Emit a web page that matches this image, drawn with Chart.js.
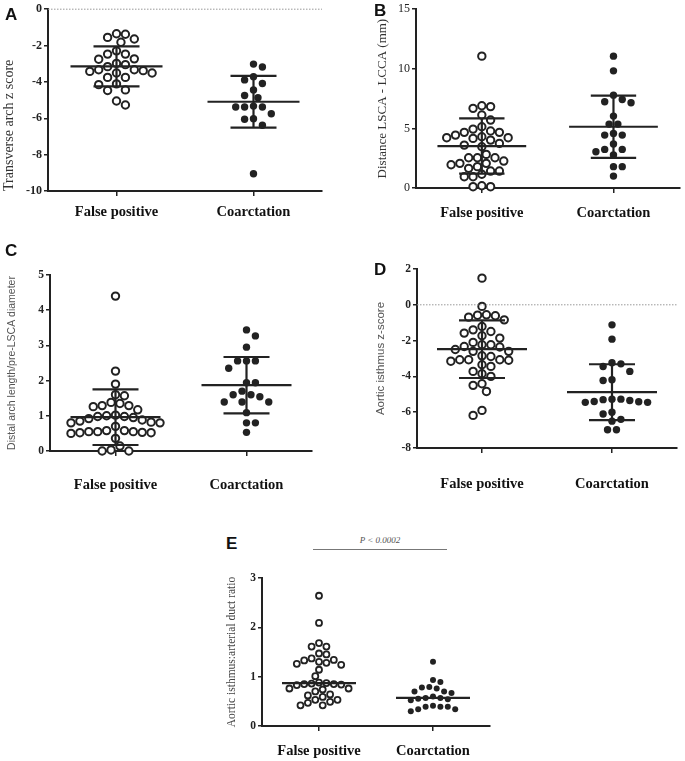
<!DOCTYPE html>
<html>
<head>
<meta charset="utf-8">
<script src="https://cdn.jsdelivr.net/npm/chart.js@4.4.1/dist/chart.umd.min.js"></script>
<style>
body{margin:0;width:685px;height:761px;background:#fff;position:relative;overflow:hidden;font-family:"Liberation Serif",serif;}
canvas{position:absolute;}
.lbl{position:absolute;font-family:"Liberation Sans",Arial,sans-serif;font-weight:bold;font-size:17px;color:#111;line-height:1;}
</style>
</head>
<body>
<canvas id="cA" width="330" height="225" style="left:0;top:0"></canvas>
<canvas id="cB" width="345" height="225" style="left:340px;top:0"></canvas>
<canvas id="cC" width="330" height="260" style="left:0;top:240px"></canvas>
<canvas id="cD" width="345" height="260" style="left:340px;top:240px"></canvas>
<canvas id="cE" width="340" height="201" style="left:170px;top:560px"></canvas>
<div class="lbl" style="left:5px;top:6px">A</div>
<div class="lbl" style="left:374px;top:2px">B</div>
<div class="lbl" style="left:5px;top:242px">C</div>
<div class="lbl" style="left:374px;top:261px">D</div>
<div class="lbl" style="left:226px;top:535px">E</div>
<div style="position:absolute;left:313px;top:549px;width:134px;border-top:1px solid #777;"></div>
<div style="position:absolute;left:313px;top:535px;width:134px;text-align:center;font-family:'Liberation Serif',serif;font-style:italic;font-size:9px;color:#555;">P &lt; 0.0002</div>
<script>
// ---------- DATA ----------
const categories = ['False positive', 'Coarctation'];

// Panel A: transverse arch z score
const aFalsePos = [-1.35,-1.38,-1.55,-1.64,-1.82,-2.29,-2.47,-2.47,-2.73,-2.75,-2.98,-3.05,-3.16,-3.33,-3.33,-3.38,-3.42,-3.51,-3.51,-3.75,-3.75,-4.11,-4.15,-4.44,-4.47,-5.05,-5.27];
const aCoarct = [-3.02,-3.18,-3.71,-3.89,-4.09,-4.44,-4.75,-4.87,-5.33,-5.38,-5.38,-5.38,-5.75,-6.02,-6.05,-6.38,-9.05];
const aMean = [-3.15, -5.09];
const aSD = [1.10, 1.42];
const aTicks = [0, -2, -4, -6, -8, -10];

// Panel B: distance LSCA - LCCA (mm)
const bFalsePos = [11.06,6.90,6.83,6.68,6.12,5.70,5.14,4.94,4.78,4.67,4.67,4.44,4.30,4.22,4.22,4.16,4.02,3.74,3.60,3.46,2.82,2.54,2.54,2.54,2.26,2.07,2.07,1.95,1.79,1.65,1.42,1.42,1.15,0.95,0.95,0.19,0.11,0.11];
const bCoarct = [11.06,9.83,7.79,7.43,7.23,7.15,6.03,5.36,5.36,4.58,4.44,4.44,3.69,3.24,3.24,3.04,2.77,1.79,1.79,1.00];
const bMean = [3.52, 5.14];
const bSD = [2.32, 2.61];
const bTicks = [0, 5, 10, 15];

// Panel C: distal arch length / pre-LSCA diameter
const cFalsePos = [4.40,2.27,1.90,1.60,1.57,1.38,1.35,1.29,1.29,1.26,1.17,1.02,1.00,0.98,0.98,0.95,0.92,0.88,0.85,0.82,0.80,0.80,0.70,0.58,0.58,0.55,0.55,0.55,0.53,0.52,0.52,0.50,0.36,0.14,0.03,0.00,0.00];
const cCoarct = [3.44,3.27,2.95,2.56,2.56,2.56,2.35,1.94,1.94,1.70,1.60,1.60,1.54,1.39,1.39,1.39,1.09,0.80,0.80,0.53];
const cMean = [0.96, 1.87];
const cSD = [0.79, 0.80];
const cTicks = [0, 1, 2, 3, 4, 5];

// Panel D: aortic isthmus z-score
const dFalsePos = [1.49,-0.09,-0.56,-0.58,-0.61,-0.69,-0.84,-1.21,-1.40,-1.49,-1.58,-1.73,-1.86,-2.10,-2.23,-2.23,-2.33,-2.36,-2.50,-2.60,-2.60,-2.85,-2.89,-3.07,-3.07,-3.07,-3.10,-3.15,-3.35,-3.44,-3.72,-3.85,-4.00,-4.41,-4.50,-4.84,-5.90,-6.18];
const dCoarct = [-1.12,-1.92,-3.24,-3.30,-3.45,-3.72,-4.19,-4.23,-5.27,-5.27,-5.30,-5.35,-5.40,-5.42,-5.45,-5.45,-6.00,-6.10,-6.40,-6.50,-6.98,-6.98];
const dMean = [-2.48, -4.88];
const dSD = [1.61, 1.56];
const dTicks = [2, 0, -2, -4, -6, -8];

// Panel E: aortic isthmus : arterial duct ratio
const eFalsePos = [2.64,2.09,1.68,1.61,1.61,1.47,1.45,1.37,1.34,1.33,1.30,1.28,1.26,1.24,1.14,1.01,0.88,0.87,0.86,0.85,0.85,0.84,0.83,0.76,0.76,0.74,0.70,0.64,0.62,0.59,0.53,0.53,0.49,0.47,0.42,0.42];
const eCoarct = [1.30,0.93,0.89,0.79,0.78,0.76,0.70,0.70,0.67,0.60,0.57,0.57,0.55,0.54,0.52,0.41,0.39,0.39,0.39,0.34,0.34,0.30];
const eMedian = [0.87, 0.57];
const eTicks = [0, 1, 2, 3];

// ---------- HELPERS ----------
const INK = '#222';
const catPos = [1, 3];

function swarm(vals, center, pxX, pxY, d) {
  const placed = [];
  const out = [];
  const sorted = vals.slice().sort((a, b) => b - a);
  let flip = 1;
  for (const v of sorted) {
    const yp = v * pxY;
    let off = 0;
    for (let i = 0; i < 80; i++) {
      const kk = i === 0 ? 0 : (i % 2 ? flip * Math.ceil(i / 2) : -flip * Math.ceil(i / 2));
      const o = kk * d / 2;
      if (placed.every(p => (p.x - o) ** 2 + (p.y - yp) ** 2 >= d * d * 0.97)) { off = o; break; }
    }
    if (off !== 0) flip = -flip;
    placed.push({x: off, y: yp});
    out.push({x: center + off / pxX, y: v});
  }
  return out;
}

function seg(x1, y1, x2, y2, w, color, dash) {
  return {type: 'line', data: [{x: x1, y: y1}, {x: x2, y: y2}], borderColor: color || INK,
    borderWidth: w, pointRadius: 0, borderDash: dash || [], showLine: true, order: 0, clip: false, fill: false};
}

function panel(id, cfg) {
  const cv = document.getElementById(id);
  const W = cv.width, H = cv.height;
  const plotW = W - cfg.yW - cfg.right;
  const plotH = H - cfg.top - cfg.xH;
  const pxX = plotW / 4;
  const pxY = plotH / (cfg.max - cfg.min);
  const ds = [];
  const series = [cfg.fp, cfg.co];
  series.forEach((vals, i) => {
    const filled = i === 1;
    ds.push({type: 'scatter', data: swarm(vals, catPos[i], pxX, pxY, cfg.d), order: 1, clip: false,
      pointRadius: cfg.r, pointHoverRadius: cfg.r, pointBorderWidth: filled ? 0 : cfg.bw,
      pointBackgroundColor: filled ? INK : '#fff', pointBorderColor: INK});
  });
  const hm = cfg.halfMean / pxX, hc = 23 / pxX;
  for (let i = 0; i < 2; i++) {
    const c = catPos[i], m = cfg.mean[i];
    ds.push(seg(c - hm, m, c + hm, m, 2.2));
    if (cfg.sd) {
      const s = cfg.sd[i];
      ds.push(seg(c, m - s, c, m + s, 2.2));
      ds.push(seg(c - hc, m + s, c + hc, m + s, 2.2));
      ds.push(seg(c - hc, m - s, c + hc, m - s, 2.2));
    }
  }
  if (cfg.zero) ds.push(seg(0, 0, 4, 0, 1, '#999', [1.5, 1.5]));
  new Chart(cv, {
    data: {datasets: ds},
    options: {
      responsive: false, animation: false, devicePixelRatio: 1,
      layout: {padding: {top: cfg.top, right: cfg.right, left: 0, bottom: 0}},
      plugins: {legend: {display: false}, tooltip: {enabled: false}},
      scales: {
        x: {type: 'linear', min: 0, max: 4,
          afterBuildTicks: s => { s.ticks = catPos.map(v => ({value: v})); },
          afterFit: s => { s.height = cfg.xH; },
          ticks: {callback: v => categories[catPos.indexOf(v)], font: {family: 'Liberation Serif', weight: 'bold', size: 14.5},
            color: '#111', padding: cfg.xPad, maxRotation: 0, autoSkip: false},
          grid: {drawOnChartArea: false, drawTicks: true, tickLength: 5, color: INK, lineWidth: 1.5},
          border: {display: true, color: INK, width: 2}},
        y: {type: 'linear', min: cfg.min, max: cfg.max,
          afterBuildTicks: s => { s.ticks = cfg.ticks.map(v => ({value: v})); },
          afterFit: s => { s.width = cfg.yW; },
          ticks: {font: {family: 'Liberation Serif', weight: cfg.tickBold ? 'bold' : 'normal', size: cfg.tickSize},
            color: '#222', padding: 2},
          grid: {drawOnChartArea: false, drawTicks: true, tickLength: 4, color: INK, lineWidth: 1.5},
          border: {display: true, color: INK, width: 2},
          title: {display: true, text: cfg.title, color: cfg.titleColor, align: cfg.titleAlign || 'center',
            font: {family: cfg.titleFont, size: cfg.titleSize}, padding: {top: cfg.titlePad, bottom: 0}}}
      }
    }
  });
}

// ---------- PANELS ----------
panel('cA', {fp: aFalsePos, co: aCoarct, mean: aMean, sd: aSD, ticks: aTicks, min: -10, max: 0, zero: true,
  yW: 48, right: 8, top: 7, xH: 34, xPad: 8, d: 8.9, r: 3.7, bw: 2, halfMean: 46,
  title: 'Transverse arch z score', titleFont: 'Liberation Serif', titleSize: 14, titleColor: '#333', titlePad: 1, titleAlign: 'start',
  tickBold: true, tickSize: 12});
panel('cB', {fp: bFalsePos, co: bCoarct, mean: bMean, sd: bSD, ticks: bTicks, min: 0, max: 15,
  yW: 76, right: 2, top: 9, xH: 37, xPad: 12, d: 8.9, r: 3.7, bw: 2, halfMean: 45,
  title: 'Distance LSCA - LCCA (mm)', titleFont: 'Liberation Serif', titleSize: 13, titleColor: '#333', titlePad: 35,
  tickBold: false, tickSize: 12});
panel('cC', {fp: cFalsePos, co: cCoarct, mean: cMean, sd: cSD, ticks: cTicks, min: 0, max: 5,
  yW: 50, right: 18, top: 35, xH: 49, xPad: 21, d: 8.9, r: 3.7, bw: 2, halfMean: 45,
  title: 'Distal arch length/pre-LSCA diameter', titleFont: 'Liberation Sans', titleSize: 10.5, titleColor: '#555', titlePad: 6,
  tickBold: true, tickSize: 11.5});
panel('cD', {fp: dFalsePos, co: dCoarct, mean: dMean, sd: dSD, ticks: dTicks, min: -8, max: 2, zero: true,
  yW: 77, right: 8, top: 29, xH: 52, xPad: 23, d: 8.9, r: 3.7, bw: 2, halfMean: 45,
  title: 'Aortic isthmus z-score', titleFont: 'Liberation Sans', titleSize: 11.5, titleColor: '#555', titlePad: 34,
  tickBold: true, tickSize: 11.5});
panel('cE', {fp: eFalsePos, co: eCoarct, mean: eMedian, sd: null, ticks: eTicks, min: 0, max: 3,
  yW: 92, right: 20, top: 18, xH: 35, xPad: 12, d: 7.4, r: 3, bw: 1.8, halfMean: 37,
  title: 'Aortic isthmus:arterial duct ratio', titleFont: 'Liberation Serif', titleSize: 11.5, titleColor: '#444', titlePad: 55,
  tickBold: true, tickSize: 11.5});
</script>
</body>
</html>
